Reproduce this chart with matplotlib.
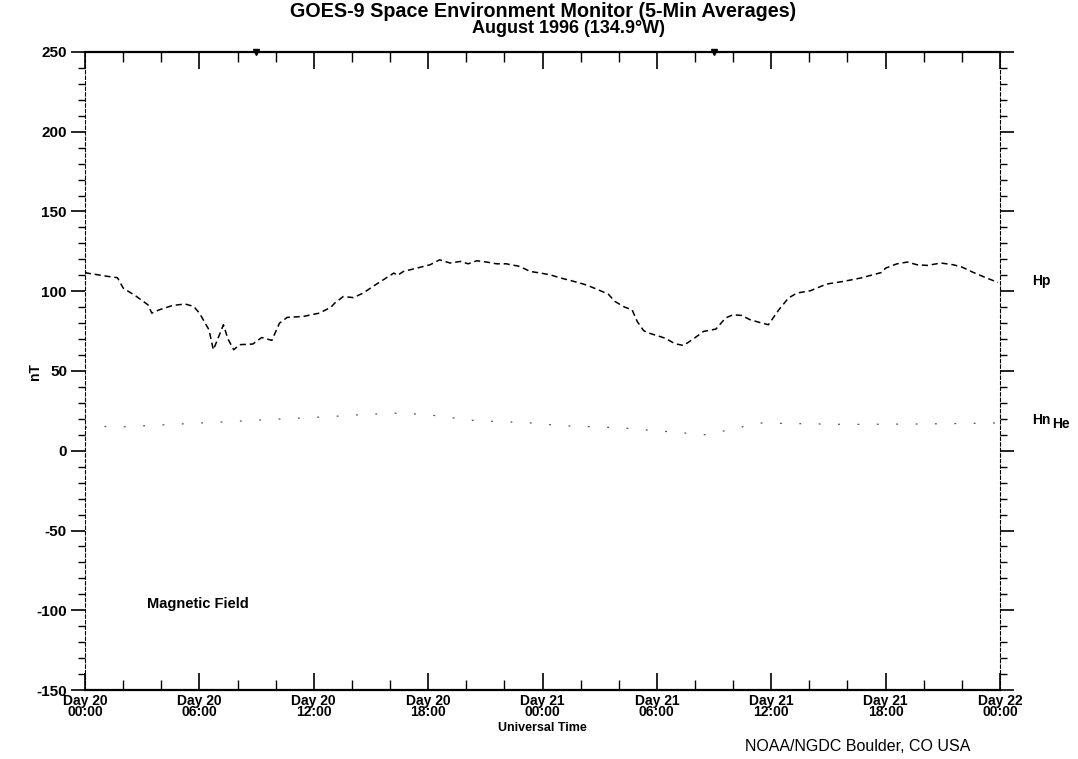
import matplotlib
matplotlib.use("Agg")
import matplotlib.pyplot as plt
from matplotlib.ticker import MultipleLocator, FixedLocator

plt.rcParams['font.family'] = ['Liberation Sans', 'DejaVu Sans']

# Hours since Day 20 00:00 UT and field values (nT)
hp_hours = [0.0, 0.1, 1.2, 1.7, 2.0, 2.7, 3.3, 3.5, 3.9, 4.6, 5.25, 5.7, 6.0, 6.2,
            6.5, 6.73, 7.05, 7.26, 7.5, 7.8, 8.1, 8.8, 9.27, 9.8, 10.2, 10.6, 11.45,
            12.3, 12.9, 13.1, 13.55, 14.08, 14.6, 15.1, 15.65, 16.2, 16.4, 16.7,
            17.4, 18.1, 18.6, 19.15, 19.7, 20.1, 20.55, 21.07, 21.6, 22.1, 22.8,
            23.35, 23.9, 24.4, 24.95, 25.45, 26.15, 26.5, 27.0, 27.45, 27.8, 28.3,
            28.7, 28.97, 29.3, 29.47, 30.43, 30.95, 31.4, 31.9, 32.45, 33.1, 33.6,
            34.0, 34.45, 34.9, 35.4, 35.85, 36.4, 36.9, 37.35, 38.05, 38.9, 39.8,
            40.7, 41.8, 42.0, 42.6, 43.15, 43.65, 44.2, 44.9, 45.55, 46.0, 46.6,
            47.3, 47.9]
hp_values = [112, 111.4, 109.3, 108.5, 102, 96.7, 91.5, 86.3, 88.4, 91.1, 92, 90.5,
             86.3, 82.1, 75.9, 63.3, 72.7, 79, 70, 63.3, 66.5, 66.9, 71, 69.2, 80,
             83.6, 84.2, 86.3, 90, 92.6, 96.7, 96, 98.9, 103, 107.2, 111.4, 110,
             112.4, 114.5, 116.6, 119.7, 117.7, 118.7, 117.2, 119.1, 118.3, 117.2,
             117.2, 115.6, 112.4, 111.4, 110.3, 108.3, 106.8, 104.5, 103, 100.5,
             98.2, 93.6, 90.1, 88.4, 81, 75.4, 74.2, 70.6, 67.1, 66, 70, 74.8, 76.3,
             83.2, 85.3, 84.8, 82.1, 80.4, 79, 88.4, 95.7, 98.9, 100.3, 104.5,
             106.2, 108.3, 111.8, 114.5, 117.2, 118.3, 116.6, 116.2, 117.7, 116.6,
             115.2, 111.8, 108.3, 105.5]

hn_hours = [0.0, 1.0, 2.0, 13.0, 15.0, 16.5, 18.0, 20.5, 23.0, 25.0, 28.0, 32.6,
            35.4, 40.0, 44.0, 47.8]
hn_values = [14.6, 15.2, 15.0, 21.5, 23.0, 23.6, 22.6, 18.8, 17.8, 15.7, 14.5, 10.0,
             17.4, 16.5, 16.8, 17.4]

x_tick_hours = [0, 6, 12, 18, 24, 30, 36, 42, 48]
x_tick_labels = ["Day 20\n00:00", "Day 20\n06:00", "Day 20\n12:00", "Day 20\n18:00",
                 "Day 21\n00:00", "Day 21\n06:00", "Day 21\n12:00", "Day 21\n18:00",
                 "Day 22\n00:00"]
y_ticks = [-150, -100, -50, 0, 50, 100, 150, 200, 250]

longitude_w = 134.9
local_midnight_ut = [longitude_w / 15.0, longitude_w / 15.0 + 24.0]

fig = plt.figure(figsize=(10.78, 7.59), dpi=100)
ax = fig.add_axes([0.0789, 0.0909, 0.8487, 0.8406])

ax.plot(hp_hours, hp_values, color='black', lw=1.1, linestyle=(0, (4, 2.5)))
ax.plot(hn_hours, hn_values, color='#555555', lw=0.9, linestyle=(0, (1.5, 14)))

ax.plot(local_midnight_ut, [250, 250], linestyle='none', marker='v', ms=5,
        color='black', clip_on=False)

ax.set_xlim(0, 48)
ax.set_ylim(-150, 250)

ax.xaxis.set_major_locator(FixedLocator(x_tick_hours))
ax.set_xticklabels(x_tick_labels, fontsize=10, fontweight='bold', linespacing=0.75)
ax.xaxis.set_minor_locator(MultipleLocator(2))
ax.tick_params(axis='x', which='major', direction='in', length=12, width=1.2,
               top=True, bottom=True, pad=3)
ax.tick_params(axis='x', which='minor', direction='in', length=7, width=1.0,
               top=True, bottom=True)

ax.set_yticks(y_ticks)
ax.set_yticklabels([str(v) for v in y_ticks], fontsize=11, fontweight='bold')
ax.yaxis.set_minor_locator(MultipleLocator(10))
ax.tick_params(axis='y', which='major', direction='out', length=10, width=1.2,
               left=True, right=True, pad=3)
ax.tick_params(axis='y', which='minor', direction='out', length=5, width=1.0,
               left=True, right=True)

for side in ('left', 'right'):
    ax.spines[side].set_linestyle((0, (3, 2)))
    ax.spines[side].set_linewidth(0.8)
for side in ('top', 'bottom'):
    ax.spines[side].set_linewidth(1.6)

fig.text(35 / 1078, 1 - 372 / 759, "nT", rotation=90, fontsize=10,
         fontweight='bold', ha='center', va='center')
ax.set_xlabel("Universal Time", fontsize=9, fontweight='bold', labelpad=2)

fig.text(0.504, 0.985, "GOES-9 Space Environment Monitor (5-Min Averages)",
         ha='center', va='center', fontsize=14.2, fontweight='bold')
fig.text(0.527, 0.962, "August 1996 (134.9\u00b0W)",
         ha='center', va='center', fontsize=13, fontweight='bold')

ax.text(0.068, 0.135, "Magnetic Field", transform=ax.transAxes, fontsize=10.5,
        fontweight='bold', ha='left', va='center')

fig.text(0.957, 0.630, "Hp", fontsize=10, fontweight='bold', ha='left', va='center')
fig.text(0.957, 0.447, "Hn", fontsize=10, fontweight='bold', ha='left', va='center')
fig.text(0.976, 0.442, "He", fontsize=10, fontweight='bold', ha='left', va='center')

fig.text(0.691, 0.016, "NOAA/NGDC Boulder, CO USA", fontsize=11.5, ha='left',
         va='center')

fig.savefig("out.png", dpi=100)
